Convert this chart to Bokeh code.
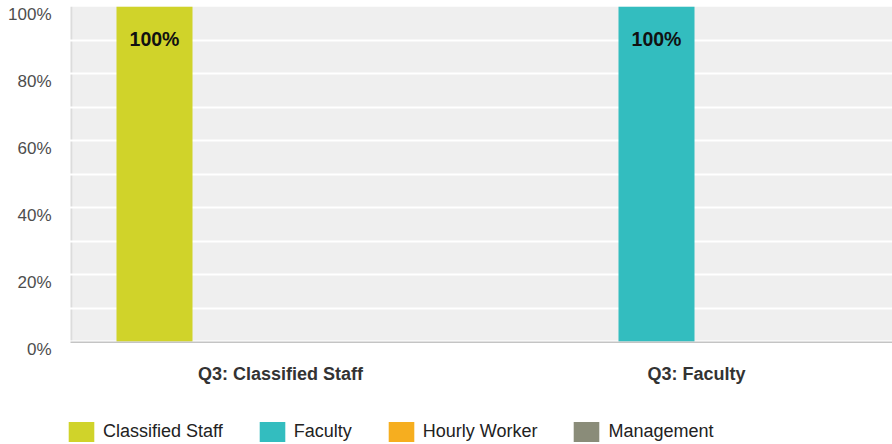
import numpy as np
from bokeh.plotting import figure
from bokeh.models import (Range1d, FixedTicker, PrintfTickFormatter, Legend,
                          LegendItem, ColumnDataSource, BoxAnnotation, LinearAxis)
from bokeh.core.properties import value
from bokeh.embed import file_html
from bokeh.resources import INLINE

# ---- data ----
categories = ["Q3: Classified Staff", "Q3: Faculty"]
series = ["Classified Staff", "Faculty", "Hourly Worker", "Management"]
classified_staff = [100, 0]
faculty = [0, 100]
hourly_worker = [0, 0]
management = [0, 0]
y_ticks = [0, 20, 40, 60, 80, 100]
grid_ticks = [0, 10, 20, 30, 40, 50, 60, 70, 80, 90, 100]
colors = ["#d0d32a", "#33bdbf", "#f6ae1f", "#8a8c79"]

values = [classified_staff, faculty, hourly_worker, management]

FONT = "Liberation Sans"
W, H = 892, 444
FRAME_LEFT = 60        # canvas frame edge
AREA_LEFT = 72         # where the grey plot area starts
TOP = 6
AXIS_Y = 341           # pixel row of the 0% line
GROUP_PX = 416.0
x_start = -(AREA_LEFT - FRAME_LEFT) / GROUP_PX
x_end = (W - AREA_LEFT) / GROUP_PX
px_per_unit = (AXIS_Y - TOP) / 100.0
y_start = -(H - AXIS_Y) / px_per_unit
lab_shift = 7.5 / px_per_unit   # tick labels sit a little below their lines

p = figure(width=W, height=H, output_backend="svg", toolbar_location=None, tools="",
           x_range=Range1d(x_start, x_end), y_range=Range1d(y_start, 100),
           min_border_left=FRAME_LEFT, min_border_right=0, min_border_top=TOP,
           min_border_bottom=0,
           background_fill_color="white", border_fill_color="white",
           outline_line_color=None)
p.xaxis.visible = False
p.yaxis.visible = False

# plot-area background (0..100 %), its left edge and its bottom axis line
p.add_layout(BoxAnnotation(left=0, bottom=0, top=100, fill_color="#efefef", fill_alpha=1,
                           line_color=None, level="image"))
p.add_layout(BoxAnnotation(left=-2 / GROUP_PX, right=0, bottom=0, top=100,
                           fill_color="#dcdcdc", fill_alpha=1, line_color=None,
                           level="image"))
p.add_layout(BoxAnnotation(left=-2 / GROUP_PX, bottom=-1.5 / px_per_unit, top=0,
                           fill_color="#c4c4c4", fill_alpha=1, line_color=None))

bar_w = 76 / GROUP_PX
step = 86 / GROUP_PX
shift = 3 / GROUP_PX
centers = np.arange(len(categories)) + 0.5

renderers = []
for j, (name, vals, col) in enumerate(zip(series, values, colors)):
    x = centers + (j - (len(series) - 1) / 2) * step + shift
    src = ColumnDataSource(dict(x=x, top=vals, cat=categories))
    r = p.vbar(x="x", top="top", bottom=0, width=bar_w, source=src,
               fill_color=col, line_color=None)
    renderers.append(r)
    keep = [i for i, v in enumerate(vals) if v > 0]
    if keep:
        lsrc = ColumnDataSource(dict(x=[x[i] for i in keep],
                                     y=[vals[i] for i in keep],
                                     t=[f"{vals[i]:g}%" for i in keep]))
        p.text(x="x", y="y", text="t", source=lsrc, text_align="center",
               text_baseline="middle", y_offset=32,
               text_font=value(FONT), text_font_style="bold",
               text_font_size="19.5px", text_color="#111111")

# category labels under the 0% line
csrc = ColumnDataSource(dict(x=centers, y=[0] * len(categories), t=categories))
p.text(x="x", y="y", text="t", source=csrc, text_align="center",
       text_baseline="middle", y_offset=32, text_font=value(FONT),
       text_font_style="bold", text_font_size="18px", text_color="#333333")

# grid
p.xgrid.visible = False
p.ygrid.ticker = FixedTicker(ticks=grid_ticks)
p.ygrid.grid_line_color = "white"
p.ygrid.grid_line_width = 2

# y axis with labels slightly below their grid lines
p.extra_y_ranges = {"lab": Range1d(y_start + lab_shift, 100 + lab_shift)}
yax = LinearAxis(y_range_name="lab", ticker=FixedTicker(ticks=y_ticks),
                 formatter=PrintfTickFormatter(format="%d%%"),
                 major_tick_line_color=None, minor_tick_line_color=None,
                 axis_line_color=None, major_label_text_font=FONT,
                 major_label_text_font_size="17px", major_label_text_color="#4d4d4d",
                 major_label_standoff=3)
p.add_layout(yax, "left")

legend = Legend(items=[LegendItem(label=s, renderers=[r]) for s, r in zip(series, renderers)],
                orientation="horizontal", location=(5, 0),
                glyph_width=32, glyph_height=25, label_standoff=6, spacing=33,
                padding=0, margin=0, border_line_color=None,
                background_fill_alpha=0, label_text_font=FONT,
                label_text_font_size="18px", label_text_color="#222222")
p.add_layout(legend)

open("out.html", "w").write(file_html(p, INLINE))
